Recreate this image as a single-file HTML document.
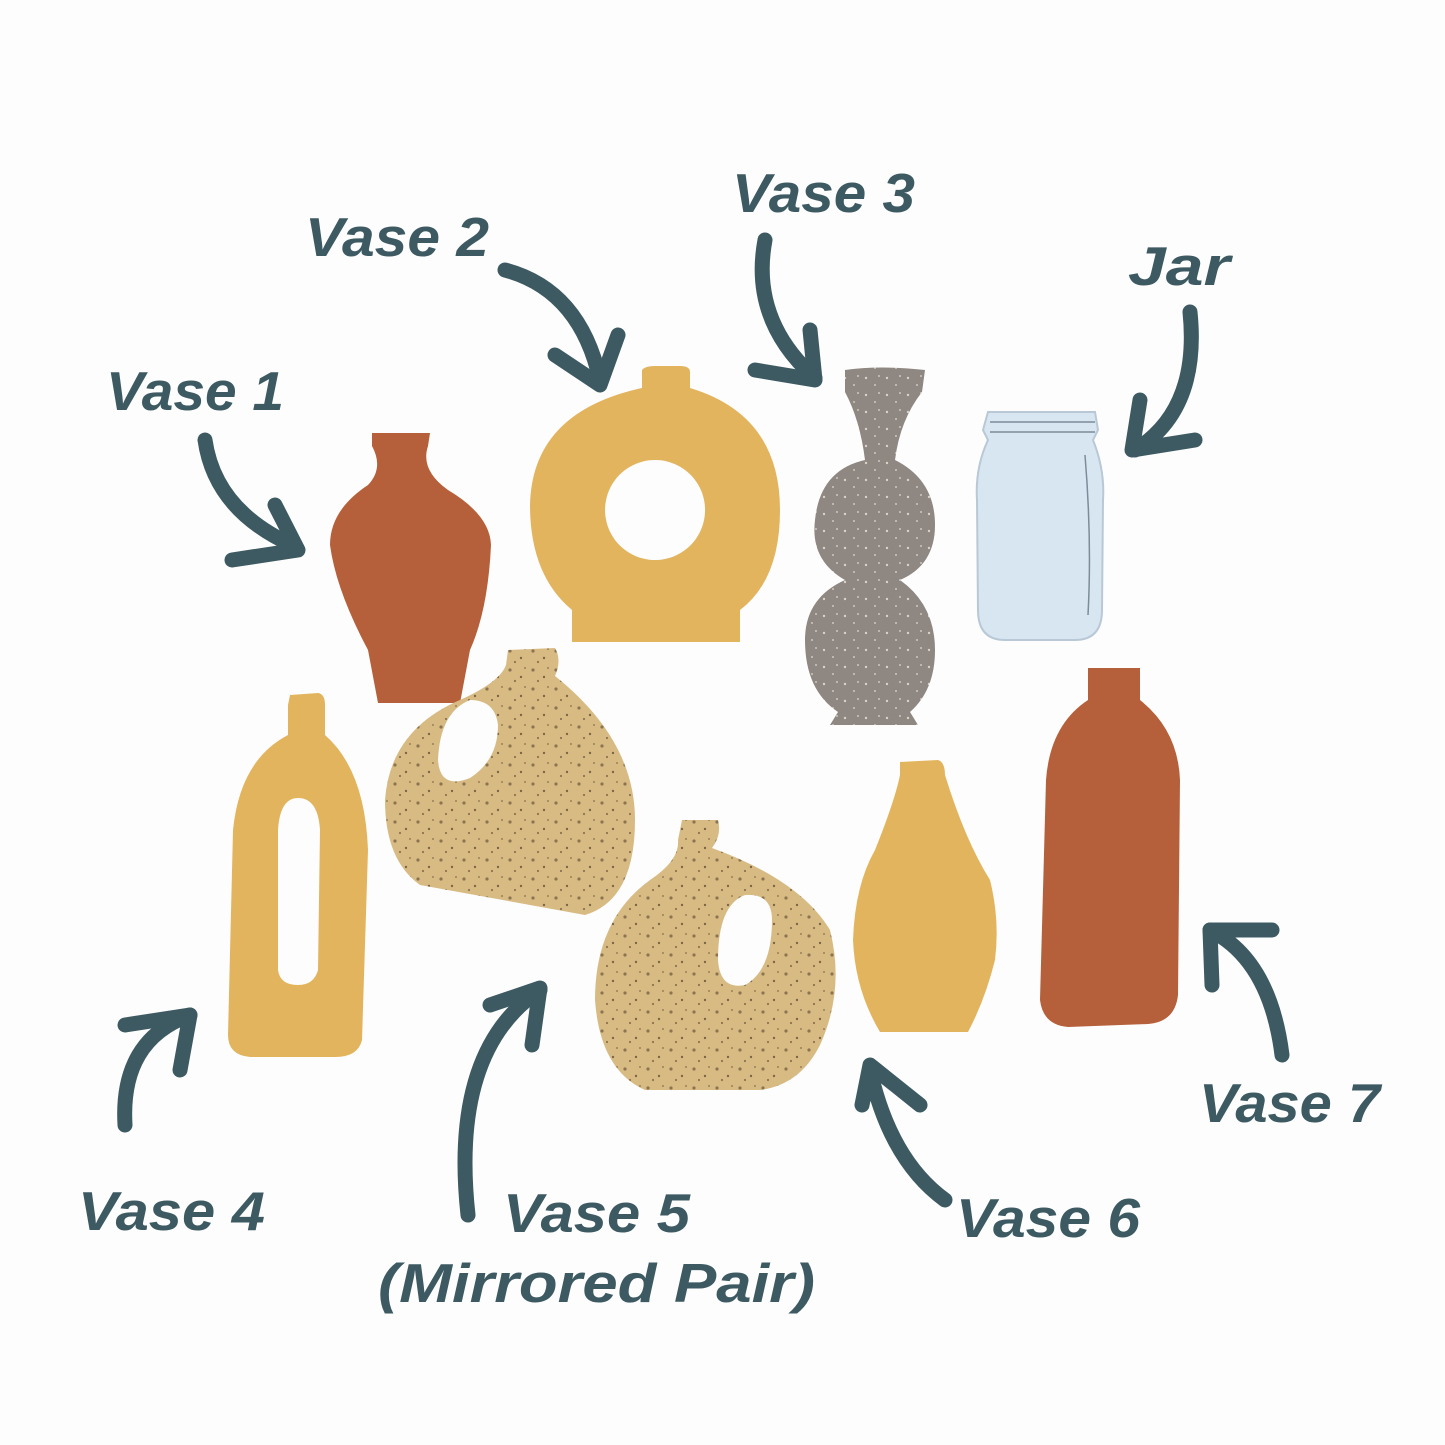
<!DOCTYPE html>
<html><head><meta charset="utf-8"><style>
html,body{margin:0;padding:0;background:#fff}
svg{display:block}
text{font-family:"Liberation Sans",sans-serif;font-style:italic;font-weight:bold;fill:#3d5a62;font-size:55px}
</style></head><body>
<svg width="1445" height="1445" viewBox="0 0 1445 1445" xmlns="http://www.w3.org/2000/svg">
<rect width="1445" height="1445" fill="#fdfdfd"/>
<defs>
<pattern id="sp" width="23" height="19" patternUnits="userSpaceOnUse">
<rect width="23" height="19" fill="#d8bb83"/>
<circle cx="4" cy="5" r="1.6" fill="#8c7450"/><circle cx="15" cy="12" r="1.2" fill="#7d6646"/><circle cx="19" cy="3" r="1" fill="#9a8058"/><circle cx="9" cy="16" r="1.1" fill="#8c7450"/>
</pattern>
<pattern id="sg" width="21" height="17" patternUnits="userSpaceOnUse">
<rect width="21" height="17" fill="#8f8781"/>
<circle cx="5" cy="4" r="1.2" fill="#d8d2c8"/><circle cx="14" cy="11" r="1" fill="#cfc8bd"/><circle cx="18" cy="2" r="0.9" fill="#e0dad0"/>
</pattern>
</defs>

<path d="M372 433 L430 433 L428 446 Q420 470 448 490 Q490 515 491 545 Q488 610 470 650 L460 703 L378 703 L368 650 Q336 590 330 545 Q330 510 368 485 Q384 468 372 446 Z" fill="#b5603a"/>
<path fill-rule="evenodd" fill="#e3b45e" d="M642 370 Q645 366 655 366 L680 366 Q690 366 690 372 L690 388 Q780 415 780 510 Q780 580 740 610 L740 642 L572 642 L572 610 Q530 575 530 505 Q532 412 642 388 Z M655 460 A50 50 0 1 0 655.1 460 Z"/>
<path fill="url(#sg)" d="M845 370 Q880 365 925 370 L922 392 Q900 420 895 460 Q935 480 935 525 Q935 565 900 580 Q935 605 935 650 Q935 690 910 712 L918 725 L830 725 L838 712 Q805 690 805 640 Q805 598 845 580 Q810 560 815 520 Q820 470 865 460 Q860 420 845 392 Z"/>
<path fill="#d7e6f1" stroke="#b9c8d6" stroke-width="2" d="M988 412 L1095 412 L1098 430 L1093 440 Q1105 470 1103 500 L1102 610 Q1102 640 1075 640 L1005 640 Q978 640 978 610 L977 500 Q975 468 988 440 L983 430 Z"/>
<path d="M990 422 L1095 422 M990 432 L1095 432 M1085 455 Q1092 540 1088 615" stroke="#7d8c98" stroke-width="1.5" fill="none"/>
<path fill-rule="evenodd" fill="#e3b45e" d="M290 695 L318 693 Q325 694 325 705 L325 735 Q365 770 368 850 L362 1040 Q358 1057 335 1057 L250 1057 Q228 1055 228 1035 L233 830 Q240 760 288 735 L288 705 Z M298 798 Q318 798 320 830 L318 970 Q314 985 298 985 Q280 985 278 970 L278 830 Q280 798 298 798 Z"/>
<path fill-rule="evenodd" fill="url(#sp)" d="M508 650 L555 648 Q562 660 555 676 Q635 740 635 820 Q635 900 585 915 L420 885 Q385 860 385 800 Q390 730 460 700 Q500 682 506 665 Z M470 700 Q495 700 498 725 Q498 760 470 778 Q440 790 438 760 Q440 712 470 700 Z"/>
<path fill-rule="evenodd" fill="url(#sp)" d="M682 820 L718 820 Q722 835 712 848 Q800 880 830 930 Q845 990 820 1045 Q800 1085 760 1090 L645 1090 Q600 1070 595 1000 Q595 920 650 880 Q680 860 678 840 Z M745 895 Q772 893 772 920 Q772 970 745 985 Q720 990 718 960 Q718 905 745 895 Z"/>
<path fill="#e3b45e" d="M900 762 L938 760 Q945 762 945 775 Q965 840 990 880 Q1000 920 995 960 Q985 1000 968 1032 L880 1032 Q855 990 853 940 Q855 885 875 850 Q895 800 900 775 Z"/>
<path fill="#b5603a" d="M1088 668 L1140 668 L1140 700 Q1178 730 1180 780 L1178 995 Q1175 1022 1148 1024 L1068 1027 Q1043 1025 1040 1000 L1046 780 Q1050 725 1088 700 Z"/>

<g stroke="#3d5a62" stroke-width="15" fill="none" stroke-linecap="round" stroke-linejoin="round">
<path d="M205 440 Q215 510 292 545"/><path d="M232 560 L298 550 L275 505"/>
<path d="M505 270 Q580 290 600 380"/><path d="M555 355 L600 385 L618 335"/>
<path d="M765 240 Q750 320 815 378"/><path d="M755 370 L815 380 L810 330"/>
<path d="M1190 312 Q1200 410 1135 450"/><path d="M1140 400 L1132 450 L1195 440"/>
<path d="M125 1125 Q120 1040 190 1015"/><path d="M125 1025 L190 1015 L180 1070"/>
<path d="M468 1215 Q450 1050 540 990"/><path d="M490 1005 L540 988 L532 1045"/>
<path d="M945 1200 Q890 1160 870 1070"/><path d="M862 1105 L870 1065 L920 1105"/>
<path d="M1282 1055 Q1270 960 1210 930"/><path d="M1212 985 L1210 930 L1272 930"/>
</g>

<text x="106" y="410" textLength="178" lengthAdjust="spacingAndGlyphs">Vase 1</text>
<text x="305" y="256" textLength="184" lengthAdjust="spacingAndGlyphs">Vase 2</text>
<text x="732" y="212" textLength="183" lengthAdjust="spacingAndGlyphs">Vase 3</text>
<text x="1128" y="285" textLength="102" lengthAdjust="spacingAndGlyphs">Jar</text>
<text x="78" y="1230" textLength="187" lengthAdjust="spacingAndGlyphs">Vase 4</text>
<text x="503" y="1232" textLength="187" lengthAdjust="spacingAndGlyphs">Vase 5</text>
<text x="378" y="1302" textLength="437" lengthAdjust="spacingAndGlyphs">(Mirrored Pair)</text>
<text x="956" y="1237" textLength="184" lengthAdjust="spacingAndGlyphs">Vase 6</text>
<text x="1199" y="1122" textLength="181" lengthAdjust="spacingAndGlyphs">Vase 7</text>
</svg>
</body></html>
